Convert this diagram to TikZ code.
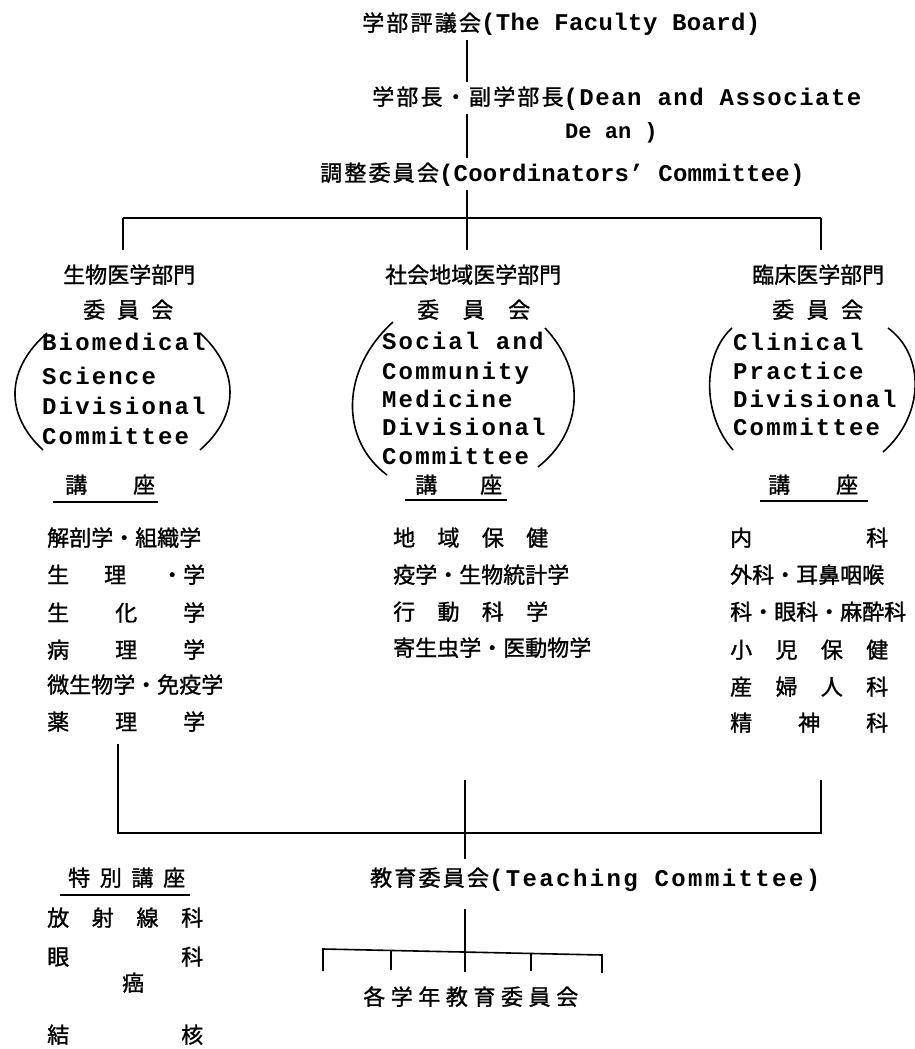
\documentclass[tikz,border=0pt]{standalone}
\usepackage{fontspec}
\newfontfamily\jpf[FakeBold=1.2]{Noto Sans CJK JP}
\newfontfamily\enfam{Liberation Mono}
\newcommand\JP{\jpf\fontsize{22}{26}\selectfont}
\newcommand\JS[1]{{\addfontfeatures{LetterSpace=10}#1}}
\newcommand\EN[3]{{\enfam\bfseries\addfontfeatures{LetterSpace=#2}\fontsize{#1}{#1}\selectfont #3}}
\newcommand\SP[2]{\makebox[#1pt][s]{#2}}
\begin{document}
\begin{tikzpicture}[x=1pt,y=-1pt,
  t/.style={anchor=base west,inner sep=0pt,font=\JP},
  ln/.style={line width=1.6pt},
  ul/.style={line width=1.4pt}]
\useasboundingbox (0,0) rectangle (915,1049);
% ---- top chain
\node[t] (board) at (362,31) {\JS{学部評議会}\EN{24}{1.5}{(The Faculty Board)}};
\node[t] (dean) at (372,105) {\JS{学部長・副学部長}\EN{24}{6.3}{(Dean and Associate}};
\node[t] (dean2) at (565,138) {\EN{22}{0}{De an )}};
\node[t] (coord) at (320,181) {\JS{調整委員会}\EN{24}{1}{(Coordinators’ Committee)}};
\coordinate (sp) at (467,0);
\coordinate (h1L) at (123,218);
\coordinate (h1M) at (467,218);
\coordinate (h1R) at (821,218);
% ---- left block
\node[t] (bio) at (63,283) {生物医学部門};
\node[t] (bioc) at (83,318) {\SP{90}{委\hfill 員\hfill 会}};
\node[t] (bioe1) at (42,350) {\EN{24}{9}{Biomedical}};
\node[t] (bioe2) at (42,384) {\EN{24}{9}{Science}};
\node[t] (bioe3) at (42,414) {\EN{24}{9}{Divisional}};
\node[t] (bioe4) at (42,444) {\EN{24}{9}{Committee}};
\node[t] (biok) at (65,493) {\SP{90}{講\hfill 座}};
\node[t] (bioL1) at (47,546) {解剖学・組織学};
\node[t] (bioL2) at (47,583) {\SP{158}{生\hfill 理\hfill ・学}};
\node[t] (bioL3) at (47,621) {\SP{158}{生\hfill 化\hfill 学}};
\node[t] (bioL4) at (47,658) {\SP{158}{病\hfill 理\hfill 学}};
\node[t] (bioL5) at (47,693) {微生物学・免疫学};
\node[t] (bioL6) at (47,730) {\SP{158}{薬\hfill 理\hfill 学}};
% ---- middle block
\node[t] (soc) at (385,283) {社会地域医学部門};
\node[t] (socc) at (417,318) {\SP{113}{委\hfill 員\hfill 会}};
\node[t] (soce1) at (382,349) {\EN{24}{9}{Social and}};
\node[t] (soce2) at (382,379) {\EN{24}{9}{Community}};
\node[t] (soce3) at (382,407) {\EN{24}{9}{Medicine}};
\node[t] (soce4) at (382,435) {\EN{24}{9}{Divisional}};
\node[t] (soce5) at (382,464) {\EN{24}{9}{Committee}};
\node[t] (sock) at (415,493) {\SP{87}{講\hfill 座}};
\node[t] (socL1) at (393,546) {\SP{155}{地\hfill 域\hfill 保\hfill 健}};
\node[t] (socL2) at (393,583) {疫学・生物統計学};
\node[t] (socL3) at (393,620) {\SP{155}{行\hfill 動\hfill 科\hfill 学}};
\node[t] (socL4) at (393,656) {寄生虫学・医動物学};
% ---- right block
\node[t] (cli) at (752,283) {臨床医学部門};
\node[t] (clic) at (772,318) {\SP{91}{委\hfill 員\hfill 会}};
\node[t] (clie1) at (733,350) {\EN{24}{9}{Clinical}};
\node[t] (clie2) at (733,379) {\EN{24}{9}{Practice}};
\node[t] (clie3) at (733,407) {\EN{24}{9}{Divisional}};
\node[t] (clie4) at (733,435) {\EN{24}{9}{Committee}};
\node[t] (clik) at (768,493) {\SP{90}{講\hfill 座}};
\node[t] (cliL1) at (730,546) {\SP{158}{内\hfill 科}};
\node[t] (cliL2) at (730,583) {外科・耳鼻咽喉};
\node[t] (cliL3) at (730,620) {科・眼科・麻酔科};
\node[t] (cliL4) at (730,658) {\SP{158}{小\hfill 児\hfill 保\hfill 健}};
\node[t] (cliL5) at (730,695) {\SP{158}{産\hfill 婦\hfill 人\hfill 科}};
\node[t] (cliL6) at (730,731) {\SP{158}{精\hfill 神\hfill 科}};
% ---- special chairs
\node[t] (spk) at (68,886) {\SP{117}{特\hfill 別\hfill 講\hfill 座}};
\node[t] (spL1) at (47,926) {\SP{156}{放\hfill 射\hfill 線\hfill 科}};
\node[t] (spL2) at (47,965) {\SP{156}{眼\hfill 科}};
\node[t] (spL3) at (122,991) {癌};
\node[t] (spL4) at (47,1043) {\SP{156}{結\hfill 核}};
% ---- teaching
\node[t] (teach) at (370,886) {\JS{教育委員会}\EN{24}{10}{(Teaching Committee)}};
\node[t] (grade) at (363,1005) {\SP{215}{各\hfill 学\hfill 年\hfill 教\hfill 育\hfill 委\hfill 員\hfill 会}};
% ---- connectors
\draw[ln,shorten <=4pt,shorten >=4pt] (board.south -| sp) -- (dean.north -| sp);
\draw[ln,shorten <=4pt,shorten >=4pt] (dean.south -| sp) -- (coord.north -| sp);
\draw[ln,shorten <=4pt,shorten >=14pt] (coord.south -| sp) -- (sp |- soc.north);
\draw[ln] (h1L) -- (h1R);
\draw[ln,shorten >=14pt] (h1L) -- (h1L |- bio.north);
\draw[ln,shorten >=14pt] (h1R) -- (h1R |- cli.north);
% parentheses
\draw[ln] (47,333) .. controls (5,370) and (5,415) .. (43,450);
\draw[ln] (200,333) .. controls (240,370) and (240,415) .. (200,450);
\draw[ln] (393,322) .. controls (340,370) and (340,440) .. (387,475);
\draw[ln] (545,328) .. controls (585,370) and (585,430) .. (538,467);
\draw[ln] (732,328) .. controls (702,355) and (702,415) .. (733,450);
\draw[ln] (888,328) .. controls (925,355) and (925,415) .. (883,452);
% underlines
\draw[ul] (53,502) -- (158,502);
\draw[ul] (405,500) -- (507,500);
\draw[ul] (760,501) -- (868,501);
\draw[ul] (60,895) -- (190,895);
% bottom joiner
\coordinate (b1L) at (118,833);
\coordinate (b1R) at (821,833);
\coordinate (m0) at (465,780);
\coordinate (r0) at (821,780);
\draw[ln,shorten <=12pt] (b1L |- bioL6.south) -- (b1L) -- (b1R) -- (r0);
\draw[ln,shorten >=8pt] (m0) -- (m0 |- teach.north);
% grade tree
\coordinate (g0) at (465,952);
\draw[ln,shorten <=18pt] (teach.south -| g0) -- (g0);
\draw[ln] (323,971) -- (323,949) -- (602,955) -- (602,973);
\draw[ln] (391,950) -- (391,970);
\draw[ln] (g0) -- (465,972);
\draw[ln] (531,953) -- (531,971);
\end{tikzpicture}
\end{document}
